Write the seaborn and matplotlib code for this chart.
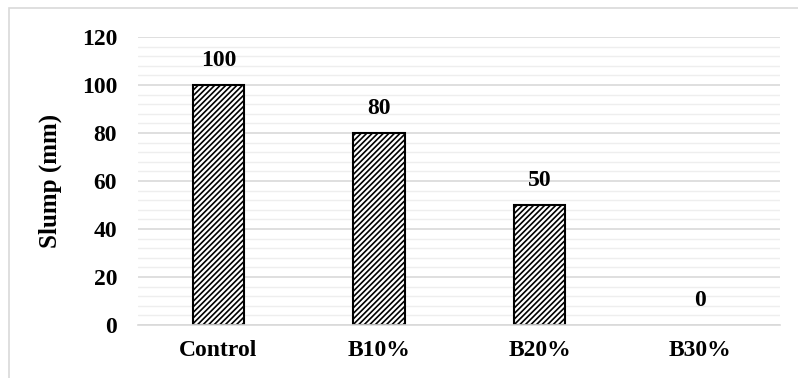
import matplotlib
matplotlib.use("Agg")
import matplotlib.pyplot as plt
import seaborn as sns
import pandas as pd
import numpy as np
from matplotlib.patches import Rectangle

categories = ["Control", "B10%", "B20%", "B30%"]
slump = [100, 80, 50, 0]
y_ticks = [0, 20, 40, 60, 80, 100, 120]

sns.set_theme(style="white")
plt.rcParams["font.family"] = ["Liberation Serif", "DejaVu Serif"]
plt.rcParams["hatch.linewidth"] = 1.2
plt.rcParams["text.color"] = "black"
plt.rcParams["axes.labelcolor"] = "black"
plt.rcParams["xtick.color"] = "black"
plt.rcParams["ytick.color"] = "black"

df = pd.DataFrame({"Mix": categories, "Slump": slump})

fig = plt.figure(figsize=(7.98, 3.78), dpi=100)
ax = fig.add_axes([0.173, 0.14, 0.805, 0.762])

sns.barplot(data=df, x="Mix", y="Slump", ax=ax, color="white",
            width=0.32, edgecolor="black", linewidth=1.5, hatch="//////")

# a zero-height bar leaves no visible outline
for patch in ax.patches:
    if patch.get_height() == 0:
        patch.set_edgecolor("none")

ax.set_ylim(0, 120)
ax.set_xlim(-0.5, 3.5)
ax.set_yticks(y_ticks)
ax.set_yticks(np.arange(0, 121, 4), minor=True)
ax.grid(axis="y", which="major", color="#d9d9d9", linewidth=1.2, zorder=0)
ax.grid(axis="y", which="minor", color="#eeeeee", linewidth=1.0, zorder=0)
ax.set_axisbelow(True)

for s in ["top", "right", "left"]:
    ax.spines[s].set_visible(False)
ax.spines["bottom"].set_color("#d9d9d9")
ax.spines["bottom"].set_linewidth(1.2)

ax.set_xticks(range(len(categories)))
ax.set_xticklabels(categories, fontsize=17, fontweight="bold", color="black")
ax.set_xticks(np.arange(-0.5, 4, 1), minor=True)
ax.tick_params(axis="x", which="major", length=0, pad=11)
ax.tick_params(axis="x", which="minor", length=6, color="#d9d9d9", width=1.2, direction="out")
ax.tick_params(axis="y", which="both", length=0, pad=15)
for lab in ax.get_yticklabels():
    lab.set_fontsize(17)
    lab.set_fontweight("bold")
    lab.set_color("black")

ax.set_xlabel("")
ax.set_ylabel("Slump (mm)", fontsize=18, fontweight="bold", labelpad=14, color="black")

for i, v in enumerate(slump):
    ax.annotate(str(v), (i, v), xytext=(0, 10), textcoords="offset points",
                ha="center", va="bottom", fontsize=17, fontweight="bold", color="black")

fig.patches.append(Rectangle((0.011, -0.01), 0.99, 0.99, transform=fig.transFigure,
                             fill=False, edgecolor="#d9d9d9", linewidth=1.2))

fig.savefig("out.png", dpi=100)
